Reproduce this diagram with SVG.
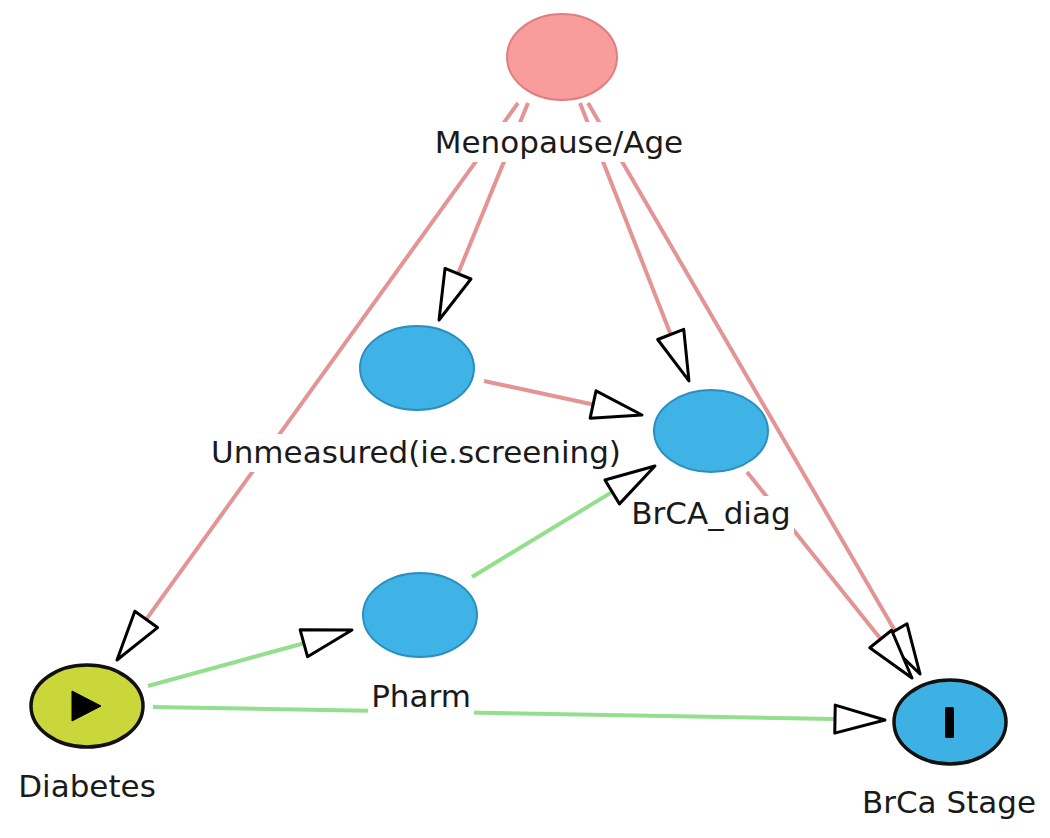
<svg xmlns="http://www.w3.org/2000/svg" width="1050" height="838" viewBox="0 0 1050 838">
<style>
.bg{fill:#ffffff}
.red{stroke:#e39595;stroke-width:4;fill:none}
.grn{stroke:#93df8e;stroke-width:4;fill:none}
.lbl{font-family:"DejaVu Sans",sans-serif;font-size:31px;fill:#1a1a1a;text-anchor:middle}
.lbg{fill:#ffffff}
.blue{fill:#3fb3e6;stroke:#2a8fbf;stroke-width:2}
</style>
<defs>
<marker id="arr" markerUnits="userSpaceOnUse" viewBox="-3 -17 56 34" refX="0" refY="0" markerWidth="56" markerHeight="34" orient="auto">
<path d="M0,-14 L50,0 L0,14 Z" fill="#ffffff" stroke="#000000" stroke-width="3" stroke-linejoin="round"/>
</marker>
</defs>
<rect class="bg" x="0" y="0" width="1050" height="838"/>
<g id="connectors">
<path class="red" d="M518,103 L146.2,619.4" marker-end="url(#arr)"/>
<path class="red" d="M528,103 L458,273.7" marker-end="url(#arr)"/>
<path class="red" d="M580,103 L670.7,334.4" marker-end="url(#arr)"/>
<path class="red" d="M588,103 L894.9,630.8" marker-end="url(#arr)"/>
<path class="red" d="M484,381 L593.1,404.5" marker-end="url(#arr)"/>
<path class="grn" d="M472,577 L612.2,491.9" marker-end="url(#arr)"/>
<path class="grn" d="M148,686 L303.8,643.2" marker-end="url(#arr)"/>
<path class="grn" d="M153,707 L835,719.1" marker-end="url(#arr)"/>
<path class="red" d="M747,472 L880.7,639" marker-end="url(#arr)"/>
</g>
<g id="menopause">
<ellipse cx="562" cy="57" rx="55" ry="43" fill="#f99c9c" stroke="#e07f7f" stroke-width="2"/>
<rect class="lbg" x="426" y="122" width="266" height="40"/>
<text class="lbl" x="559" y="153">Menopause/Age</text>
</g>
<g id="unmeasured">
<ellipse class="blue" cx="417" cy="368" rx="57" ry="42"/>
<rect class="lbg" x="210" y="434" width="414" height="38"/>
<text class="lbl" x="416" y="463">Unmeasured(ie.screening)</text>
</g>
<g id="brca_diag">
<ellipse class="blue" cx="711" cy="431" rx="57" ry="41"/>
<rect class="lbg" x="630" y="496" width="164" height="38"/>
<text class="lbl" x="711" y="524">BrCA_diag</text>
</g>
<g id="pharm">
<ellipse class="blue" cx="420" cy="615" rx="57" ry="42"/>
<rect class="lbg" x="368" y="680" width="106" height="36"/>
<text class="lbl" x="421" y="707">Pharm</text>
</g>
<g id="diabetes">
<ellipse cx="87" cy="706" rx="56" ry="41" fill="#c9d73a" stroke="#111111" stroke-width="3.5"/>
<polygon points="72,691 101,706 72,721" fill="#000000" stroke="#000000" stroke-width="1" stroke-linejoin="round"/>
<text class="lbl" x="87" y="797">Diabetes</text>
</g>
<g id="brca_stage">
<ellipse cx="950" cy="722" rx="56" ry="42" fill="#3db1e4" stroke="#111111" stroke-width="3.5"/>
<rect x="945" y="707" width="9" height="31" rx="1.5" fill="#000000"/>
<text class="lbl" x="949" y="813">BrCa Stage</text>
</g>
</svg>
